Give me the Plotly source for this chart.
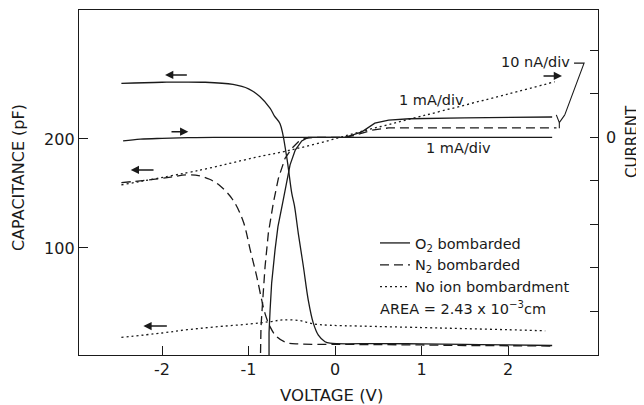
import plotly.graph_objects as go

# ---------------- data ----------------
# Capacitance (pF), reverse sweeps
o2_cap_v = [-2.47, -2.0, -1.5, -1.18, -1.0, -0.87, -0.75, -0.70, -0.636, -0.56, -0.50, -0.47,
            -0.424, -0.366, -0.309, -0.251, -0.193, -0.116, -0.058, 0.5, 1.0, 1.5, 2.0, 2.51]
o2_cap_c = [251, 252, 252, 250, 246, 239, 228, 221, 214, 184, 150, 139,
            113, 83, 52, 31, 20, 14, 12.6, 12.3, 12, 11.5, 11, 10.5]

n2_cap_v = [-2.47, -2.2, -1.9, -1.71, -1.56, -1.45, -1.33, -1.18, -1.06, -0.98, -0.905, -0.848,
            -0.81, -0.752, -0.675, -0.559, -0.405, 0.0, 0.5, 1.0, 1.5, 2.0, 2.51]
n2_cap_c = [160, 162, 165, 167, 166, 163, 157, 144, 124, 98, 73.7, 52.3,
            40, 27.8, 18.6, 13.1, 11.9, 11.6, 11.3, 11, 10.5, 10.3, 10]

noion_cap_v = [-2.47, -2.0, -1.71, -1.4, -0.98, -0.75, -0.6, -0.405, -0.25, -0.06, 0.3, 1.0, 1.5, 2.0, 2.43]
noion_cap_c = [18, 22, 25, 27.5, 30.3, 32.4, 34, 33.3, 30.3, 29.1, 28.3, 27, 26, 25, 24]

# Currents (divisions on the right axis)
o2_i1ma_v = [-2.45, -2.25, -2.0, -1.7, -1.4, 0.0, 1.0, 2.51]
o2_i1ma_i = [-0.08, -0.04, -0.02, -0.005, 0.0, 0.0, 0.0, 0.0]

noion_i1ma_v = [-2.47, -1.56, -0.925, -0.56, -0.15, 0.29, 1.0, 2.0, 2.54]
noion_i1ma_i = [-1.09, -0.75, -0.46, -0.31, -0.11, 0.13, 0.49, 1.0, 1.28]

o2_i10na_v = [-0.763, -0.763, -0.751, -0.733, -0.694, -0.66, -0.605, -0.558, -0.52, -0.46,
              -0.385, -0.31, -0.2, 0.12, 0.31, 0.46, 0.62, 0.86, 1.5, 2.51]
o2_i10na_i = [-5.6, -4.49, -3.97, -3.35, -2.59, -2.05, -1.5, -1.05, -0.63, -0.29,
              -0.08, 0.0, 0.0, 0.0, 0.13, 0.33, 0.40, 0.43, 0.45, 0.47]

n2_i10na_v = [-0.867, -0.856, -0.836, -0.809, -0.771, -0.713, -0.655, -0.578, -0.5, -0.424,
              -0.347, -0.25, 0.1, 0.23, 0.43, 0.62, 1.0, 2.56]
n2_i10na_i = [-5.6, -4.35, -3.74, -2.97, -2.20, -1.5, -0.94, -0.48, -0.25, -0.1,
              -0.02, 0.0, 0.0, 0.05, 0.17, 0.22, 0.22, 0.22]

x_ticks = [-2, -1, 0, 1, 2]
x_tick_text = ["-2", "-1", "0", "1", "2"]
y_ticks = [100, 200]
y2_ticks = [-4, -3, -2, -1, 0, 1, 2]

legend_names = ["O<sub>2</sub> bombarded", "N<sub>2</sub> bombarded", "No ion bombardment"]

# ---------------- figure ----------------
INK = "#1a1a1a"
FONT = "DejaVu Sans"
LW = 1.3
DASH = "9px,5px"
DOT = "2px,3px"

# page coords of the plot box (the page body adds an 8px offset)
OFF = 8
L, R, T, B = 79, 598, 10, 355
PW, PH = R - L, B - T


def px(xp):
    return (xp - L) / PW


def py(yp):
    return 1 - (yp - T) / PH


fig = go.Figure()

fig.add_trace(go.Scatter(x=o2_cap_v, y=o2_cap_c, mode="lines", name=legend_names[0],
                         line=dict(color=INK, width=LW), line_shape="spline"))
fig.add_trace(go.Scatter(x=n2_cap_v, y=n2_cap_c, mode="lines", name=legend_names[1],
                         line=dict(color=INK, width=LW, dash=DASH), line_shape="spline"))
fig.add_trace(go.Scatter(x=noion_cap_v, y=noion_cap_c, mode="lines", name=legend_names[2],
                         line=dict(color=INK, width=LW, dash=DOT), line_shape="spline"))

fig.add_trace(go.Scatter(x=o2_i1ma_v, y=o2_i1ma_i, mode="lines", yaxis="y2", showlegend=False,
                         line=dict(color=INK, width=LW), line_shape="spline"))
fig.add_trace(go.Scatter(x=noion_i1ma_v, y=noion_i1ma_i, mode="lines", yaxis="y2", showlegend=False,
                         line=dict(color=INK, width=LW, dash=DOT), line_shape="spline"))
fig.add_trace(go.Scatter(x=o2_i10na_v, y=o2_i10na_i, mode="lines", yaxis="y2", showlegend=False,
                         line=dict(color=INK, width=LW)))
fig.add_trace(go.Scatter(x=n2_i10na_v, y=n2_i10na_i, mode="lines", yaxis="y2", showlegend=False,
                         line=dict(color=INK, width=LW, dash=DASH)))

annotations = []
# sweep direction arrows (head, tail, y, yref)
arrows = [
    (-1.965, -1.696, 258.7, "y"),
    (-2.362, -2.081, 171.6, "y"),
    (-2.216, -1.927, 28.4, "y"),
    (-1.696, -1.908, 0.133, "y2"),
    (2.624, 2.393, 1.414, "y2"),
]
for hx, tx, yy, yr in arrows:
    annotations.append(dict(x=hx, y=yy, ax=tx, ay=yy, xref="x", yref=yr, axref="x", ayref=yr,
                            text="", showarrow=True, arrowhead=2, arrowsize=1.1,
                            arrowwidth=1.5, arrowcolor=INK))

tf = dict(family=FONT, size=14.5, color=INK)
annotations += [
    dict(x=2.74, y=1.74, xref="x", yref="y2", text="10 nA/div", showarrow=False,
         xanchor="right", yanchor="middle", font=tf),
    dict(x=0.717, y=235.8, xref="x", yref="y", text="1 mA/div", showarrow=False,
         xanchor="left", yanchor="middle", font=tf),
    dict(x=1.03, y=191.7, xref="x", yref="y", text="1 mA/div", showarrow=False,
         xanchor="left", yanchor="middle", font=tf),
    dict(x=px(378), y=py(308), xref="paper", yref="paper",
         text="AREA = 2.43 x 10<sup>−3</sup>cm", showarrow=False,
         xanchor="left", yanchor="middle", font=tf),
    dict(x=px(611), y=0, xref="paper", yref="y2", text="0", showarrow=False,
         xanchor="center", yanchor="middle", font=dict(family=FONT, size=16, color=INK)),
    dict(x=px(18), y=py(178), xref="paper", yref="paper",
         text="CAPACITANCE (pF)", textangle=-90, showarrow=False,
         xanchor="center", yanchor="middle", font=dict(family=FONT, size=16, color=INK)),
    dict(x=px(331), y=py(396), xref="paper", yref="paper",
         text="VOLTAGE (V)", showarrow=False,
         xanchor="center", yanchor="middle", font=dict(family=FONT, size=16.5, color=INK)),
    dict(x=px(632), y=py(142), xref="paper", yref="paper",
         text="CURRENT", textangle=-90, showarrow=False,
         xanchor="center", yanchor="middle", font=dict(family=FONT, size=15, color=INK)),
]

shapes = [
    dict(type="path", xref="x", yref="y2", path="M 2.763 1.71 L 2.879 1.71 L 2.656 0.52",
         line=dict(color=INK, width=1.1)),
    dict(type="path", xref="x", yref="y2", path="M 2.558 0.52 L 2.593 0.34 L 2.656 0.52",
         line=dict(color=INK, width=1.1)),
    dict(type="path", xref="x", yref="y2", path="M 2.593 0.34 L 2.593 0.21",
         line=dict(color=INK, width=1.1)),
]

FW, FH = 644 - OFF, 405 - OFF
fig.update_layout(
    width=FW, height=FH, autosize=False,
    margin=dict(l=L - OFF, r=FW - (R - OFF), t=T - OFF, b=FH - (B - OFF), pad=0),
    paper_bgcolor="white", plot_bgcolor="white",
    font=dict(family=FONT, color=INK, size=15),
    showlegend=True,
    legend=dict(x=px(375), y=py(227), xanchor="left", yanchor="top",
                bgcolor="rgba(0,0,0,0)", font=dict(family=FONT, size=14.5, color=INK),
                tracegroupgap=0, itemwidth=30),
    xaxis=dict(range=[-2.96, 3.04], tickvals=x_ticks, ticktext=x_tick_text,
               ticks="inside", ticklen=9, tickwidth=1.2, tickcolor=INK,
               showline=True, linecolor=INK, linewidth=1.4, mirror=True,
               showgrid=False, zeroline=False, tickfont=dict(size=16, family=FONT, color=INK)),
    yaxis=dict(range=[1.8, 318.3], tickvals=y_ticks,
               ticks="inside", ticklen=9, tickwidth=1.2, tickcolor=INK,
               showline=True, linecolor=INK, linewidth=1.4,
               showgrid=False, zeroline=False, tickfont=dict(size=16, family=FONT, color=INK)),
    yaxis2=dict(range=[-5.0, 2.93], overlaying="y", side="right",
                tickvals=y2_ticks, showticklabels=False,
                ticks="inside", ticklen=8, tickwidth=1.2, tickcolor=INK,
                showline=True, linecolor=INK, linewidth=1.4,
                showgrid=False, zeroline=False),
    annotations=annotations,
    shapes=shapes,
)

fig.write_html("out.html")
